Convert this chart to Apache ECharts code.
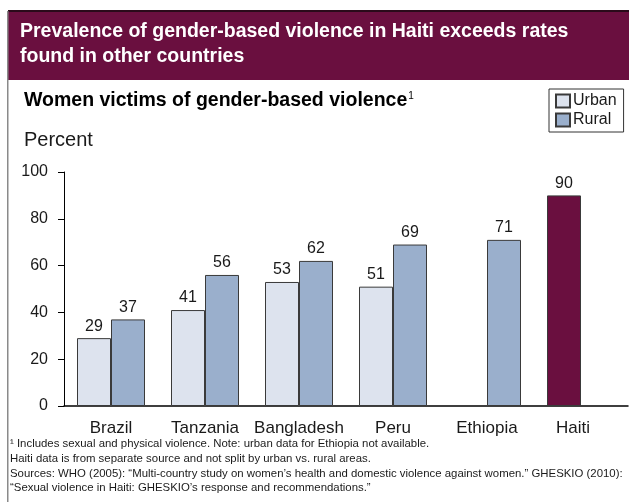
<!DOCTYPE html>
<html>
<head>
<meta charset="utf-8">
<script src="https://cdn.jsdelivr.net/npm/echarts@6/dist/echarts.min.js"></script>
<style>
  html, body { margin: 0; padding: 0; background: #fff; }
  #chart { width: 629px; height: 502px; }
</style>
</head>
<body>
<div id="chart"></div>
<script>
// Countries on the category axis
const countries = ['Brazil', 'Tanzania', 'Bangladesh', 'Peru', 'Ethiopia', 'Haiti'];
// Percent of women reporting gender-based violence
const urban = [29, 41, 53, 51, null, null];
const rural = [37, 56, 62, 69, 71, null];
// Haiti comes from a separate source and is not split by area
const haitiTotal = [null, null, null, null, null, 90];
const yTicks = [0, 20, 40, 60, 80, 100];

const headline = ['Prevalence of gender-based violence in Haiti exceeds rates', 'found in other countries'];
const subtitle = 'Women victims of gender-based violence';
const unitLabel = 'Percent';
const footnotes = [
  '\u00b9 Includes sexual and physical violence. Note: urban data for Ethiopia not available.',
  'Haiti data is from separate source and not split by urban vs. rural areas.',
  'Sources: WHO (2005): \u201cMulti-country study on women\u2019s health and domestic violence against women.\u201d GHESKIO (2010):',
  '\u201cSexual violence in Haiti: GHESKIO\u2019s response and recommendations.\u201d'
];

const FONT = '"Liberation Sans", Arial, sans-serif';
const PURPLE = '#6a0f3f';

const chart = echarts.init(document.getElementById('chart'), null, { renderer: 'canvas' });

const labelStyle = { show: true, position: 'top', color: '#1a1a1a', fontSize: 16, fontFamily: FONT, distance: 4 };

// The single Haiti bar sits in the left slot, so its axis label is nudged to follow it
const categoryData = countries.map(function (name) {
  return name === 'Haiti' ? { value: name, textStyle: { padding: [0, 16, 0, 0] } } : name;
});

chart.setOption({
  animation: false,
  textStyle: { fontFamily: FONT },
  grid: { left: 64, right: 1, top: 172, bottom: 96, containLabel: false },
  legend: {
    data: ['Urban', 'Rural'],
    orient: 'vertical',
    left: 549,
    top: 89,
    padding: [4, 7, 4, 6],
    itemGap: 3,
    itemWidth: 14,
    itemHeight: 13,
    borderColor: '#333',
    borderWidth: 1,
    borderRadius: 0,
    icon: 'rect',
    textStyle: { fontSize: 16, color: '#1a1a1a', fontFamily: FONT, padding: [0, 0, 0, -2] }
  },
  xAxis: {
    type: 'category',
    data: categoryData,
    axisLine: { lineStyle: { color: '#000', width: 1.5 } },
    axisTick: { show: false },
    axisLabel: { interval: 0, color: '#1a1a1a', fontSize: 17, fontFamily: FONT, margin: 14 }
  },
  yAxis: {
    type: 'value',
    min: yTicks[0],
    max: yTicks[yTicks.length - 1],
    interval: yTicks[1] - yTicks[0],
    axisLine: { show: true, lineStyle: { color: '#000', width: 1 } },
    axisTick: { show: true, length: 6, lineStyle: { color: '#000' } },
    splitLine: { show: false },
    axisLabel: { color: '#1a1a1a', fontSize: 16, fontFamily: FONT, margin: 16 }
  },
  series: [
    {
      name: 'Urban',
      type: 'bar',
      stack: 'first',
      data: urban,
      barWidth: 34,
      barGap: '0%',
      itemStyle: { color: '#dde3ee', borderColor: '#3a3a3a', borderWidth: 1 },
      label: labelStyle
    },
    {
      name: 'Haiti',
      type: 'bar',
      stack: 'first',
      data: haitiTotal,
      barWidth: 34,
      barGap: '0%',
      itemStyle: { color: PURPLE, borderColor: '#3a3a3a', borderWidth: 1 },
      label: labelStyle
    },
    {
      name: 'Rural',
      type: 'bar',
      data: rural,
      barWidth: 34,
      barGap: '0%',
      itemStyle: { color: '#9aafcc', borderColor: '#3a3a3a', borderWidth: 1 },
      label: labelStyle
    }
  ],
  graphic: [
    // headline band
    { type: 'rect', left: 8, top: 11, shape: { width: 621, height: 69 }, style: { fill: PURPLE } },
    { type: 'rect', left: 8, top: 10, shape: { width: 621, height: 2 }, style: { fill: '#2a0a1a' } },
    // left frame line
    { type: 'rect', left: 7, top: 11, shape: { width: 1.5, height: 491 }, style: { fill: '#8a8a8a' } },
    { type: 'text', left: 20, top: 22, style: { text: headline[0], fill: '#fff', font: 'bold 19.5px ' + FONT } },
    { type: 'text', left: 20, top: 47, style: { text: headline[1], fill: '#fff', font: 'bold 19.5px ' + FONT } },
    {
      type: 'text', left: 24, top: 91,
      style: {
        text: '{t|' + subtitle + '}{s|1}',
        rich: {
          t: { font: 'bold 19.5px ' + FONT, fill: '#000', verticalAlign: 'bottom' },
          s: { font: '10px ' + FONT, fill: '#000', verticalAlign: 'top', padding: [0, 0, 10, 1] }
        }
      }
    },
    { type: 'text', left: 24, top: 130, style: { text: unitLabel, fill: '#1a1a1a', font: '20px ' + FONT } },
    { type: 'text', left: 10, top: 438, style: { text: footnotes[0], fill: '#1a1a1a', font: '11.4px ' + FONT } },
    { type: 'text', left: 10, top: 453, style: { text: footnotes[1], fill: '#1a1a1a', font: '11.4px ' + FONT } },
    { type: 'text', left: 10, top: 468, style: { text: footnotes[2], fill: '#1a1a1a', font: '11.4px ' + FONT } },
    { type: 'text', left: 10, top: 482, style: { text: footnotes[3], fill: '#1a1a1a', font: '11.4px ' + FONT } }
  ]
});
</script>
</body>
</html>
